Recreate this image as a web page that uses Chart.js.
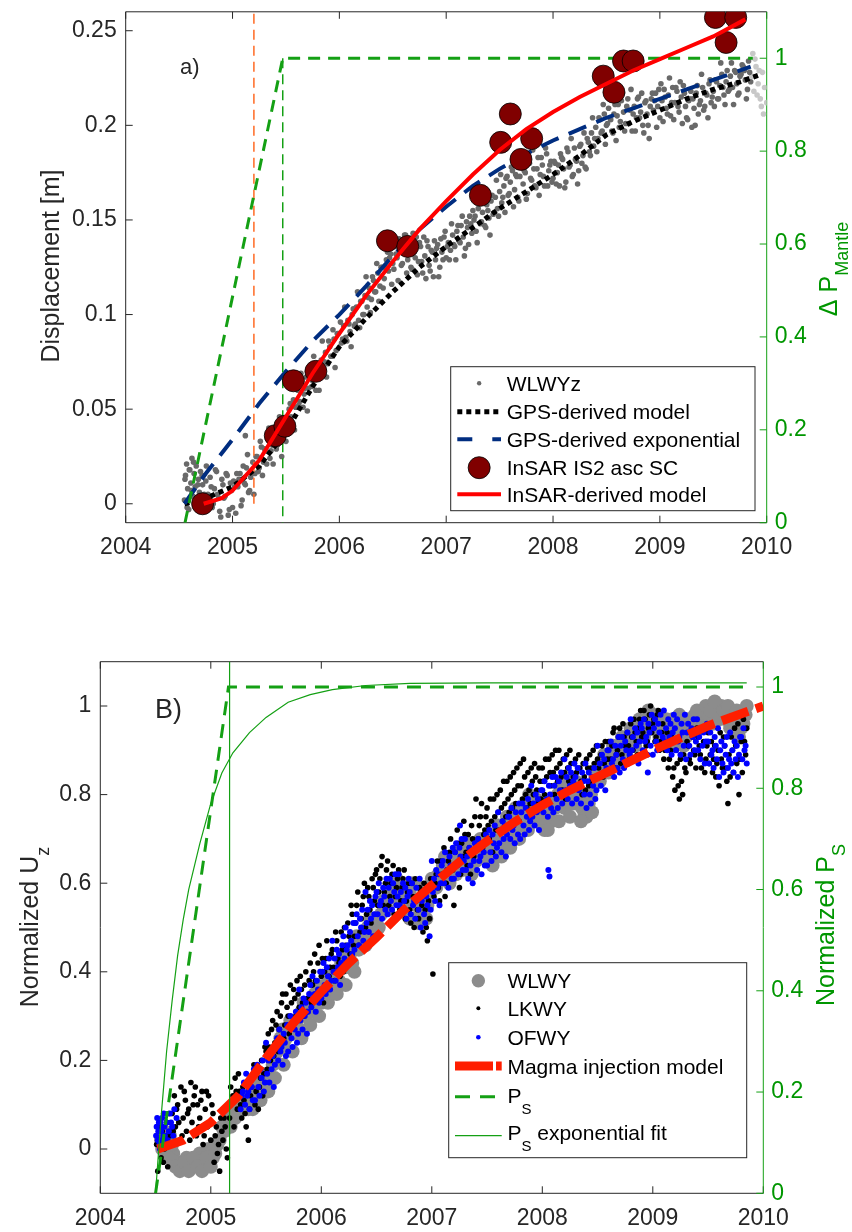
<!DOCTYPE html>
<html>
<head>
<meta charset="utf-8">
<script src="https://cdn.jsdelivr.net/npm/chart.js@4.4.1/dist/chart.umd.min.js"></script>
<style>
html, body { margin: 0; padding: 0; background: #fff; }
#wrap { position: relative; width: 852px; height: 1232px; }
canvas { position: absolute; left: 0; }
#topChart { top: 0; }
#bottomChart { top: 600px; }
</style>
</head>
<body>
<div id="wrap">
  <canvas id="topChart" width="852" height="575"></canvas>
  <canvas id="bottomChart" width="852" height="632"></canvas>
</div>
<script>
// ---------- axes ----------
const yearTicks = [2004, 2005, 2006, 2007, 2008, 2009, 2010];
const dispTicks = [0, 0.05, 0.1, 0.15, 0.2, 0.25];
const mantleTicks = [0, 0.2, 0.4, 0.6, 0.8, 1];
const uzTicks = [0, 0.2, 0.4, 0.6, 0.8, 1];
const psTicks = [0, 0.2, 0.4, 0.6, 0.8, 1];

// ---------- panel a) ----------
// WLWYz vertical GPS [year, m]
const wlwyz = [
  [2004.55,0.002],[2004.56,0.015],[2004.57,0.021],[2004.58,0.008],[2004.59,-0.003],[2004.60,0.018],[2004.61,0.011],[2004.62,0.024],
  [2004.63,0.004],[2004.64,0.016],[2004.65,0.009],[2004.66,0.020],[2004.67,0.001],[2004.68,0.013],[2004.69,0.006],[2004.70,0.017],
  [2004.72,0.010],[2004.73,-0.004],[2004.75,0.012],[2004.77,0.005],[2004.79,0.014],[2004.81,-0.002],[2004.83,0.008],[2004.85,0.017],
  [2004.87,0.003],[2004.89,-0.007],[2004.91,0.010],[2004.93,0.004],[2004.95,0.015],[2004.97,-0.003],[2004.99,0.007],[2005.01,0.012],
  [2005.03,-0.005],[2005.05,0.009],[2005.07,0.016],[2005.09,0.002],[2005.11,0.011],[2005.12,0.036],[2005.13,0.019],[2005.15,0.006],
  [2005.17,0.014],[2005.19,0.022],[2005.21,0.016],[2005.23,0.025],[2005.25,0.019],[2005.27,0.030],[2005.29,0.022],[2005.31,0.028],
  [2005.33,0.035],[2005.35,0.024],[2005.37,0.031],[2005.39,0.040],[2005.41,0.029],[2005.43,0.037],[2005.45,0.033],[2005.47,0.045],
  [2005.49,0.038],[2005.51,0.042],[2005.53,0.050],[2005.55,0.046],[2005.57,0.055],[2005.59,0.051],[2005.61,0.060],[2005.63,0.054],
  [2005.65,0.063],[2005.67,0.058],[2005.69,0.067],[2005.71,0.061],[2005.73,0.070],[2005.75,0.065],[2005.77,0.074],[2005.79,0.069],
  [2005.81,0.060],[2005.83,0.076],[2005.85,0.071],[2005.87,0.080],[2005.89,0.074],[2005.91,0.083],[2005.93,0.078],[2005.95,0.087],
  [2005.97,0.081],[2005.99,0.090],[2006.02,0.085],[2006.04,0.094],[2006.06,0.088],[2006.08,0.097],[2006.10,0.091],[2006.12,0.100],
  [2006.14,0.094],[2006.16,0.104],[2006.18,0.097],[2006.20,0.107],[2006.22,0.100],[2006.24,0.110],[2006.26,0.104],[2006.28,0.114],
  [2006.30,0.108],[2006.32,0.118],[2006.34,0.112],[2006.36,0.122],[2006.38,0.115],[2006.40,0.125],[2006.42,0.119],[2006.44,0.129],
  [2006.46,0.123],[2006.48,0.132],[2006.50,0.127],[2006.52,0.136],[2006.54,0.130],[2006.56,0.140],[2006.58,0.126],[2006.60,0.134],
  [2006.62,0.142],[2006.64,0.129],[2006.66,0.137],[2006.68,0.124],[2006.70,0.133],[2006.72,0.141],[2006.74,0.128],[2006.76,0.136],
  [2006.78,0.122],[2006.80,0.131],[2006.82,0.139],[2006.84,0.126],[2006.86,0.134],[2006.88,0.120],[2006.90,0.129],[2006.92,0.137],
  [2006.94,0.125],[2006.96,0.133],[2006.98,0.141],[2007.00,0.130],[2007.02,0.138],[2007.04,0.134],[2007.06,0.142],[2007.08,0.136],
  [2007.10,0.144],[2007.12,0.139],[2007.14,0.147],[2007.16,0.141],[2007.18,0.135],[2007.20,0.146],[2007.22,0.152],[2007.24,0.143],
  [2007.26,0.150],[2007.28,0.144],[2007.30,0.156],[2007.32,0.148],[2007.34,0.154],[2007.36,0.147],[2007.38,0.158],[2007.40,0.151],
  [2007.42,0.160],[2007.44,0.153],[2007.46,0.162],[2007.48,0.156],[2007.50,0.165],[2007.52,0.159],[2007.54,0.168],[2007.56,0.172],
  [2007.58,0.163],[2007.60,0.170],[2007.62,0.176],[2007.64,0.166],[2007.66,0.173],[2007.68,0.160],[2007.70,0.178],[2007.72,0.169],
  [2007.74,0.175],[2007.76,0.164],[2007.78,0.180],[2007.80,0.171],[2007.82,0.177],[2007.84,0.167],[2007.86,0.183],[2007.88,0.174],
  [2007.90,0.179],[2007.92,0.168],[2007.94,0.185],[2007.96,0.176],[2007.98,0.181],[2008.00,0.172],[2008.02,0.180],[2008.04,0.175],
  [2008.06,0.168],[2008.08,0.183],[2008.10,0.177],[2008.12,0.170],[2008.14,0.186],[2008.16,0.179],[2008.18,0.173],[2008.20,0.188],
  [2008.22,0.181],[2008.24,0.176],[2008.26,0.190],[2008.28,0.184],[2008.30,0.178],[2008.32,0.193],[2008.34,0.186],[2008.36,0.196],
  [2008.38,0.189],[2008.40,0.199],[2008.42,0.193],[2008.44,0.203],[2008.46,0.197],[2008.48,0.206],[2008.50,0.200],[2008.52,0.209],
  [2008.54,0.203],[2008.56,0.196],[2008.58,0.211],[2008.60,0.205],[2008.62,0.199],[2008.64,0.213],[2008.66,0.207],[2008.68,0.201],
  [2008.70,0.214],[2008.72,0.208],[2008.74,0.197],[2008.76,0.210],[2008.78,0.204],[2008.80,0.215],[2008.82,0.207],[2008.84,0.200],
  [2008.86,0.212],[2008.88,0.206],[2008.90,0.193],[2008.92,0.214],[2008.94,0.208],[2008.96,0.217],[2008.98,0.210],[2009.00,0.204],
  [2009.02,0.213],[2009.04,0.219],[2009.06,0.209],[2009.08,0.216],[2009.10,0.205],[2009.12,0.220],[2009.14,0.212],[2009.16,0.218],
  [2009.18,0.207],[2009.20,0.215],[2009.22,0.221],[2009.24,0.210],[2009.26,0.203],[2009.28,0.214],[2009.30,0.199],[2009.32,0.209],
  [2009.34,0.217],[2009.36,0.206],[2009.38,0.213],[2009.40,0.220],[2009.42,0.210],[2009.44,0.216],[2009.46,0.222],[2009.48,0.212],
  [2009.50,0.218],[2009.52,0.224],[2009.54,0.214],[2009.56,0.221],[2009.58,0.227],[2009.60,0.216],[2009.62,0.223],[2009.64,0.218],
  [2009.66,0.226],[2009.68,0.220],[2009.70,0.229],[2009.72,0.222],[2009.74,0.217],[2009.76,0.227],[2009.78,0.231],[2009.80,0.224],
  [2009.82,0.219],[2009.84,0.228],
  [2004.555,0.013],[2004.575,-0.002],[2004.595,0.018],[2004.615,0.007],[2004.635,0.022],[2004.655,0.002],[2004.675,0.010],
  [2004.695,-0.004],[2004.715,0.015],[2004.735,0.005],[2004.755,0.020],[2004.775,0.000],[2004.80,0.009],[2004.82,0.000],
  [2004.84,0.018],[2004.86,0.005],[2004.88,-0.004],[2004.90,0.013],[2004.92,0.003],[2004.94,0.016],[2004.96,-0.006],[2004.98,0.011],
  [2005.00,-0.002],[2005.02,0.009],[2005.04,0.016],[2005.06,0.013],[2005.08,-0.001],[2005.10,0.020],[2005.12,0.010],[2005.14,0.026],
  [2005.16,0.007],[2005.18,0.016],[2005.20,0.005],[2005.22,0.025],[2005.24,0.017],[2005.26,0.033],[2005.28,0.015],[2005.30,0.029],
  [2005.32,0.021],[2005.34,0.040],[2005.36,0.028],[2005.38,0.021],[2005.40,0.039],[2005.42,0.031],[2005.44,0.046],[2005.46,0.025],
  [2005.48,0.044],[2005.50,0.033],[2005.52,0.045],[2005.54,0.053],[2005.56,0.052],[2005.58,0.039],[2005.60,0.061],[2005.62,0.052],
  [2005.64,0.069],[2005.66,0.051],[2005.68,0.061],[2005.70,0.049],[2005.72,0.070],[2005.74,0.062],[2005.76,0.078],[2005.78,0.060],
  [2005.80,0.074],[2005.82,0.067],[2005.84,0.086],[2005.86,0.075],[2005.88,0.067],[2005.90,0.086],[2005.92,0.078],[2005.94,0.092],
  [2005.96,0.072],[2005.98,0.090],[2006.01,0.096],[2006.03,0.087],[2006.05,0.104],[2006.07,0.086],[2006.09,0.095],[2006.11,0.083],
  [2006.13,0.103],[2006.15,0.095],[2006.17,0.112],[2006.19,0.093],[2006.21,0.107],[2006.23,0.100],[2006.25,0.120],[2006.27,0.109],
  [2006.29,0.101],[2006.31,0.120],[2006.33,0.112],[2006.35,0.127],[2006.37,0.107],[2006.39,0.125],[2006.41,0.114],[2006.43,0.125],
  [2006.45,0.133],[2006.47,0.130],[2006.49,0.116],[2006.51,0.124],[2006.53,0.132],[2006.55,0.118],[2006.57,0.137],[2006.59,0.127],
  [2006.61,0.142],[2006.63,0.122],[2006.65,0.134],[2006.67,0.125],[2006.69,0.143],[2006.71,0.130],[2006.73,0.121],[2006.75,0.138],
  [2006.77,0.128],[2006.79,0.141],[2006.81,0.119],[2006.83,0.136],[2006.85,0.123],[2006.87,0.133],[2006.89,0.139],[2006.91,0.135],
  [2006.93,0.120],[2006.95,0.140],[2006.97,0.129],[2006.99,0.144],[2007.01,0.136],[2007.03,0.129],[2007.05,0.148],[2007.07,0.137],
  [2007.09,0.129],[2007.11,0.147],[2007.13,0.138],[2007.15,0.152],[2007.17,0.131],[2007.19,0.149],[2007.21,0.137],[2007.23,0.148],
  [2007.25,0.155],[2007.27,0.152],[2007.29,0.138],[2007.31,0.159],[2007.33,0.149],[2007.35,0.165],[2007.37,0.146],[2007.39,0.155],
  [2007.41,0.142],[2007.43,0.163],[2007.45,0.154],[2007.47,0.171],[2007.49,0.152],[2007.51,0.174],[2007.53,0.162],[2007.55,0.154],
  [2007.57,0.173],[2007.59,0.164],[2007.61,0.178],[2007.63,0.157],[2007.65,0.174],[2007.67,0.162],[2007.69,0.173],[2007.71,0.179],
  [2007.73,0.176],[2007.75,0.161],[2007.77,0.182],[2007.79,0.172],[2007.81,0.187],[2007.83,0.168],[2007.85,0.177],[2007.87,0.163],
  [2007.89,0.183],[2007.91,0.173],[2007.93,0.188],[2007.95,0.168],[2007.97,0.179],[2007.99,0.170],[2008.01,0.181],[2008.03,0.169],
  [2008.05,0.179],[2008.07,0.185],[2008.09,0.182],[2008.11,0.167],[2008.13,0.188],[2008.15,0.178],[2008.17,0.193],[2008.19,0.174],
  [2008.21,0.182],[2008.23,0.169],[2008.25,0.189],[2008.27,0.180],[2008.29,0.196],[2008.31,0.177],[2008.33,0.191],[2008.35,0.184],
  [2008.37,0.204],[2008.39,0.193],[2008.41,0.186],[2008.43,0.204],[2008.45,0.196],[2008.47,0.211],[2008.49,0.190],[2008.51,0.201],
  [2008.53,0.217],[2008.55,0.197],[2008.57,0.206],[2008.59,0.192],[2008.61,0.211],[2008.63,0.202],[2008.65,0.217],[2008.67,0.197],
  [2008.69,0.210],[2008.71,0.201],[2008.73,0.219],[2008.75,0.206],[2008.77,0.197],[2008.79,0.214],[2008.81,0.204],[2008.83,0.217],
  [2008.85,0.196],[2008.87,0.213],[2008.89,0.200],[2008.91,0.210],[2008.93,0.217],[2008.95,0.213],[2008.97,0.199],[2008.99,0.219],
  [2009.01,0.222],[2009.03,0.202],[2009.05,0.215],[2009.07,0.206],[2009.09,0.225],[2009.11,0.212],[2009.13,0.203],[2009.15,0.220],
  [2009.17,0.210],[2009.19,0.223],[2009.21,0.201],[2009.23,0.217],[2009.25,0.204],[2009.27,0.213],[2009.29,0.218],[2009.31,0.214],
  [2009.33,0.200],[2009.35,0.221],[2009.37,0.211],[2009.39,0.227],[2009.41,0.208],[2009.43,0.217],[2009.45,0.204],[2009.47,0.224],
  [2009.49,0.215],[2009.51,0.210],[2009.53,0.223],[2009.55,0.214],[2009.57,0.233],[2009.59,0.220],[2009.61,0.211],[2009.63,0.229],
  [2009.65,0.219],[2009.67,0.233],[2009.69,0.211],[2009.71,0.228],[2009.73,0.216],[2009.75,0.226],[2009.77,0.232],[2009.79,0.229],
  [2009.81,0.214],[2009.83,0.234],[2009.85,0.223]
];
const wlwyzLate = [
  [2009.86,0.226],[2009.88,0.218],[2009.89,0.235],[2009.90,0.231],[2009.92,0.222],[2009.94,0.214],[2009.95,0.210],
  [2009.96,0.228],[2009.98,0.220],[2010.00,0.212],[2009.87,0.238],[2009.91,0.216],[2009.93,0.229],[2009.97,0.206]
];
const gpsModel = [
  [2004.55,0.000],[2004.75,0.003],[2005.00,0.009],[2005.25,0.020],[2005.50,0.038],[2005.75,0.062],[2006.00,0.083],
  [2006.25,0.098],[2006.50,0.112],[2006.75,0.125],[2007.00,0.136],[2007.25,0.146],[2007.50,0.156],[2007.75,0.165],
  [2008.00,0.174],[2008.25,0.184],[2008.50,0.195],[2008.75,0.202],[2009.00,0.208],[2009.25,0.214],[2009.50,0.219],
  [2009.75,0.223],[2009.95,0.227]
];
const gpsExponential = [
  [2004.55,0.000],[2004.75,0.016],[2005.00,0.034],[2005.25,0.053],[2005.50,0.070],[2005.75,0.086],[2006.00,0.100],
  [2006.25,0.115],[2006.50,0.131],[2006.75,0.145],[2007.00,0.157],[2007.25,0.168],[2007.50,0.177],[2007.75,0.185],
  [2008.00,0.192],[2008.25,0.198],[2008.50,0.204],[2008.75,0.209],[2009.00,0.214],[2009.25,0.219],[2009.50,0.224],
  [2009.85,0.231]
];
const insar = [
  [2004.72,0.000],[2005.40,0.036],[2005.49,0.041],[2005.57,0.065],[2005.78,0.070],[2006.45,0.139],[2006.64,0.136],
  [2007.32,0.163],[2007.51,0.191],[2007.60,0.206],[2007.70,0.182],[2007.80,0.193],[2008.47,0.226],[2008.57,0.2175],
  [2008.66,0.234],[2008.75,0.234],[2009.52,0.257],[2009.62,0.2438],[2009.71,0.257]
];
const insarModel = [
  [2004.73,0.000],[2004.90,0.003],[2005.00,0.007],[2005.25,0.023],[2005.50,0.046],[2005.75,0.069],[2006.00,0.090],
  [2006.25,0.110],[2006.50,0.128],[2006.75,0.145],[2007.00,0.160],[2007.25,0.174],[2007.50,0.187],[2007.75,0.198],
  [2008.00,0.207],[2008.25,0.215],[2008.50,0.222],[2008.75,0.229],[2009.00,0.235],[2009.25,0.241],[2009.50,0.247],
  [2009.80,0.256]
];
// Delta P mantle (right axis)
const pMantle = [[2004.555,0],[2005.47,1],[2009.87,1]];
const pMantleDrop = [[2005.47,1],[2005.47,0]];
const orangeEvent = [[2005.2,0],[2005.2,0.26]];

// ---------- panel B) ----------
const wlwy = [
  [2004.55,0.02],[2004.58,0.04],[2004.60,0.01],[2004.63,0.03],[2004.66,-0.01],[2004.70,-0.03],[2004.74,-0.04],[2004.78,-0.02],
  [2004.82,-0.04],[2004.86,-0.03],[2004.90,-0.01],[2004.94,-0.03],[2004.98,0.00],[2005.02,-0.02],[2005.06,0.01],[2005.12,0.04],
  [2005.16,0.07],[2005.20,0.08],[2005.24,0.10],[2005.28,0.09],[2005.32,0.12],[2005.36,0.11],[2005.40,0.13],[2005.44,0.15],
  [2005.48,0.14],[2005.52,0.17],[2005.56,0.19],[2005.60,0.22],[2005.63,0.25],[2005.66,0.23],[2005.70,0.27],[2005.74,0.26],
  [2005.78,0.29],[2005.82,0.31],[2005.86,0.30],[2005.90,0.33],[2005.94,0.35],[2005.98,0.34],[2006.02,0.36],[2006.06,0.38],
  [2006.10,0.37],[2006.14,0.40],[2006.18,0.42],[2006.22,0.41],[2006.26,0.44],[2006.30,0.46],[2006.34,0.45],[2006.38,0.48],
  [2006.42,0.50],[2006.46,0.49],[2006.50,0.52],[2006.54,0.53],[2006.58,0.55],[2006.62,0.57],[2006.66,0.58],[2006.70,0.56],
  [2006.74,0.59],[2006.78,0.57],[2006.82,0.60],[2006.86,0.55],[2006.90,0.53],[2006.94,0.56],[2006.98,0.58],[2007.02,0.60],
  [2007.06,0.62],[2007.10,0.64],[2007.14,0.63],[2007.18,0.66],[2007.22,0.62],[2007.26,0.65],[2007.30,0.67],[2007.34,0.64],
  [2007.38,0.66],[2007.42,0.68],[2007.46,0.67],[2007.50,0.69],[2007.54,0.68],[2007.58,0.70],[2007.62,0.72],[2007.66,0.71],
  [2007.70,0.73],[2007.74,0.75],[2007.78,0.74],[2007.82,0.76],[2007.86,0.78],[2007.90,0.77],[2007.94,0.79],[2007.98,0.76],
  [2008.02,0.72],[2008.06,0.75],[2008.10,0.78],[2008.14,0.80],[2008.18,0.79],[2008.22,0.82],[2008.26,0.80],[2008.30,0.83],
  [2008.34,0.79],[2008.38,0.76],[2008.42,0.78],[2008.46,0.82],[2008.50,0.85],[2008.54,0.87],[2008.58,0.86],[2008.62,0.88],
  [2008.66,0.90],[2008.70,0.89],[2008.74,0.91],[2008.78,0.93],[2008.82,0.92],[2008.86,0.94],[2008.90,0.96],[2008.94,0.95],
  [2008.98,0.97],[2009.02,0.95],[2009.06,0.93],[2009.10,0.96],[2009.14,0.94],[2009.18,0.97],[2009.22,0.92],[2009.26,0.95],
  [2009.30,0.93],[2009.34,0.96],[2009.38,0.98],[2009.42,0.97],[2009.46,0.99],[2009.50,0.98],[2009.54,0.96],[2009.58,0.99],
  [2009.62,1.00],[2009.66,0.97],[2009.70,0.95],[2009.74,0.98],[2009.78,0.93],[2009.82,0.96],[2009.85,1.00],
  [2004.56,0.00],[2004.59,0.03],[2004.62,-0.02],[2004.65,0.01],[2004.68,-0.04],[2004.72,-0.05],[2004.76,-0.03],[2004.80,-0.05],
  [2004.84,-0.02],[2004.88,-0.04],[2004.92,-0.05],[2004.96,-0.02],[2005.00,-0.04],[2005.04,-0.01],[2005.08,0.02],[2005.10,0.05],
  [2005.14,0.06],[2005.18,0.05],[2005.22,0.07],[2005.26,0.12],[2005.30,0.10],[2005.34,0.09],[2005.38,0.13],[2005.42,0.12],
  [2005.46,0.17],[2005.50,0.15],[2005.54,0.21],[2005.58,0.20],[2005.62,0.23],[2005.65,0.27],[2005.68,0.25],[2005.72,0.29],
  [2005.76,0.28],[2005.80,0.27],[2005.84,0.33],[2005.88,0.32],[2005.92,0.31],[2005.96,0.37],[2006.00,0.33],[2006.04,0.35],
  [2006.08,0.40],[2006.12,0.39],[2006.16,0.38],[2006.20,0.44],[2006.24,0.43],[2006.28,0.42],[2006.32,0.48],[2006.36,0.47],
  [2006.40,0.46],[2006.44,0.52],[2006.48,0.51],[2006.52,0.50],[2006.56,0.56],[2006.60,0.54],[2006.64,0.60],[2006.68,0.61],
  [2006.72,0.58],[2006.76,0.55],[2006.80,0.58],[2006.84,0.52],[2006.88,0.56],[2006.92,0.59],[2006.96,0.55],[2007.00,0.61],
  [2007.04,0.59],[2007.08,0.61],[2007.12,0.66],[2007.16,0.60],[2007.20,0.64],[2007.24,0.67],[2007.28,0.63],[2007.32,0.69],
  [2007.36,0.62],[2007.40,0.65],[2007.44,0.70],[2007.48,0.66],[2007.52,0.71],[2007.56,0.66],[2007.60,0.73],[2007.64,0.69],
  [2007.68,0.75],[2007.72,0.71],[2007.76,0.77],[2007.80,0.73],[2007.84,0.75],[2007.88,0.80],[2007.92,0.75],[2007.96,0.74],
  [2008.00,0.73],[2008.04,0.77],[2008.08,0.74],[2008.12,0.77],[2008.16,0.82],[2008.20,0.77],[2008.24,0.84],[2008.28,0.78],
  [2008.32,0.81],[2008.36,0.77],[2008.40,0.75],[2008.44,0.80],[2008.48,0.84],[2008.52,0.83],[2008.56,0.89],[2008.60,0.85],
  [2008.64,0.91],[2008.68,0.87],[2008.72,0.93],[2008.76,0.89],[2008.80,0.95],[2008.84,0.91],[2008.88,0.97],[2008.92,0.93],
  [2008.96,0.99],[2009.00,0.96],[2009.04,0.98],[2009.08,0.92],[2009.12,0.97],[2009.16,0.91],[2009.20,0.95],[2009.24,0.98],
  [2009.28,0.91],[2009.32,0.97],[2009.36,0.94],[2009.40,0.99],[2009.44,0.95],[2009.48,1.00],[2009.52,0.99],[2009.56,1.01],
  [2009.60,0.97],[2009.64,0.99],[2009.68,1.00],[2009.72,0.97],[2009.76,0.99],[2009.80,0.95],[2009.84,0.98],
  [2005.38,0.09],[2005.45,0.11],[2005.52,0.13],[2005.58,0.16],[2005.66,0.19],[2005.74,0.22],[2005.82,0.25],[2005.90,0.28],
  [2005.98,0.30],[2006.06,0.33],[2006.14,0.35],[2006.22,0.37],[2006.30,0.40],[2006.80,0.52],[2006.88,0.51],[2006.95,0.52],
  [2007.55,0.64],[2007.63,0.66],[2007.71,0.68],[2007.79,0.70],[2007.87,0.72],[2008.05,0.72],[2008.15,0.74],[2008.25,0.75],
  [2008.35,0.74],[2008.45,0.76]
];
const lkwy = [
  [2004.52,-0.05],[2004.53,0.02],[2004.55,-0.02],[2004.56,0.04],[2004.58,0.00],[2004.60,0.06],[2004.61,-0.04],[2004.63,0.03],
  [2004.65,0.08],[2004.67,0.12],[2004.68,0.05],[2004.70,0.10],[2004.72,0.02],[2004.73,0.14],[2004.75,0.07],[2004.77,0.11],
  [2004.78,0.04],[2004.80,0.09],[2004.82,0.15],[2004.83,0.06],[2004.85,0.12],[2004.87,0.03],[2004.88,0.10],[2004.90,0.07],
  [2004.92,0.13],[2004.93,0.01],[2004.95,0.09],[2004.97,0.05],[2004.98,0.12],[2005.00,0.02],[2005.02,0.08],[2005.03,-0.03],
  [2005.05,0.05],[2005.07,0.01],[2005.08,-0.05],[2005.10,0.04],[2005.12,0.07],[2005.14,0.00],[2005.16,0.10],[2005.18,0.14],
  [2005.20,0.12],[2005.22,0.16],[2005.24,0.09],[2005.26,0.13],[2005.28,0.07],[2005.30,0.11],[2005.32,0.05],[2005.34,0.02],
  [2005.36,0.12],[2005.38,0.16],[2005.40,0.10],[2005.42,0.18],[2005.44,0.14],[2005.46,0.20],[2005.48,0.17],[2005.50,0.22],
  [2005.52,0.26],[2005.54,0.20],[2005.56,0.29],[2005.58,0.24],[2005.60,0.31],[2005.62,0.27],[2005.64,0.33],[2005.66,0.25],
  [2005.68,0.35],[2005.70,0.30],[2005.72,0.37],[2005.74,0.28],[2005.76,0.34],[2005.78,0.38],[2005.80,0.32],[2005.82,0.36],
  [2005.84,0.30],[2005.86,0.40],[2005.88,0.34],[2005.90,0.42],[2005.92,0.37],[2005.94,0.44],[2005.96,0.35],[2005.98,0.46],
  [2006.00,0.39],[2006.02,0.33],[2006.04,0.43],[2006.06,0.36],[2006.08,0.41],[2006.10,0.45],[2006.12,0.38],[2006.14,0.47],
  [2006.16,0.42],[2006.18,0.49],[2006.20,0.40],[2006.22,0.46],[2006.24,0.51],[2006.26,0.44],[2006.28,0.53],[2006.30,0.48],
  [2006.32,0.55],[2006.34,0.46],[2006.36,0.52],[2006.38,0.57],[2006.40,0.50],[2006.42,0.59],[2006.44,0.54],[2006.46,0.61],
  [2006.48,0.56],[2006.50,0.63],[2006.52,0.58],[2006.54,0.64],[2006.56,0.55],[2006.58,0.60],[2006.60,0.65],[2006.62,0.57],
  [2006.64,0.62],[2006.66,0.53],[2006.68,0.59],[2006.70,0.63],[2006.72,0.56],[2006.74,0.61],[2006.76,0.52],[2006.78,0.58],
  [2006.80,0.54],[2006.82,0.60],[2006.84,0.50],[2006.86,0.56],[2006.88,0.52],[2006.90,0.58],[2006.92,0.49],[2006.94,0.54],
  [2006.96,0.47],[2006.98,0.52],[2007.01,0.395],[2007.02,0.57],[2007.04,0.62],[2007.06,0.59],[2007.08,0.65],[2007.10,0.60],
  [2007.12,0.57],[2007.14,0.63],[2007.16,0.67],[2007.18,0.61],[2007.20,0.55],[2007.22,0.64],[2007.24,0.69],[2007.26,0.62],
  [2007.28,0.66],[2007.30,0.71],[2007.32,0.64],[2007.34,0.68],[2007.36,0.73],[2007.38,0.66],[2007.40,0.79],[2007.42,0.70],
  [2007.44,0.75],[2007.46,0.68],[2007.48,0.72],[2007.50,0.77],[2007.52,0.70],[2007.54,0.74],[2007.56,0.79],[2007.58,0.72],
  [2007.60,0.76],[2007.62,0.81],[2007.64,0.74],[2007.66,0.78],[2007.68,0.83],[2007.70,0.76],[2007.72,0.80],[2007.74,0.85],
  [2007.76,0.78],[2007.78,0.82],[2007.80,0.87],[2007.82,0.79],[2007.84,0.84],[2007.86,0.77],[2007.88,0.81],[2007.90,0.86],
  [2007.92,0.80],[2007.94,0.84],[2007.96,0.78],[2007.98,0.83],[2008.00,0.86],[2008.02,0.80],[2008.04,0.84],[2008.06,0.88],
  [2008.08,0.82],[2008.10,0.85],[2008.12,0.90],[2008.14,0.83],[2008.16,0.87],[2008.18,0.81],[2008.20,0.85],[2008.22,0.89],
  [2008.24,0.83],[2008.26,0.87],[2008.28,0.84],[2008.30,0.88],[2008.32,0.82],[2008.34,0.86],[2008.36,0.80],[2008.38,0.84],
  [2008.40,0.88],[2008.42,0.82],[2008.44,0.86],[2008.46,0.90],[2008.48,0.84],[2008.50,0.88],[2008.52,0.84],[2008.54,0.91],
  [2008.56,0.87],[2008.58,0.85],[2008.60,0.92],[2008.62,0.88],[2008.64,0.94],[2008.66,0.86],[2008.68,0.90],[2008.70,0.95],
  [2008.72,0.89],[2008.74,0.93],[2008.76,0.87],[2008.78,0.91],[2008.80,0.96],[2008.82,0.90],[2008.84,0.94],[2008.86,0.89],
  [2008.88,0.97],[2008.90,0.93],[2008.92,0.99],[2008.94,0.91],[2008.96,0.95],[2008.98,1.00],[2009.00,0.96],[2009.02,0.92],
  [2009.04,0.98],[2009.06,0.90],[2009.08,0.94],[2009.10,0.88],[2009.12,0.92],[2009.14,0.86],[2009.16,0.90],[2009.18,0.84],
  [2009.20,0.81],[2009.22,0.87],[2009.24,0.79],[2009.26,0.83],[2009.28,0.89],[2009.30,0.85],[2009.32,0.91],[2009.34,0.87],
  [2009.36,0.93],[2009.38,0.89],[2009.40,0.95],[2009.42,0.91],[2009.44,0.86],[2009.46,0.92],[2009.48,0.88],[2009.50,0.94],
  [2009.52,0.89],[2009.54,0.85],[2009.56,0.91],[2009.58,0.87],[2009.60,0.82],[2009.62,0.88],[2009.64,0.93],[2009.66,0.86],
  [2009.68,0.78],[2009.70,0.84],[2009.72,0.90],[2009.74,0.95],[2009.76,0.87],[2009.78,0.80],[2009.80,0.92],[2009.82,0.97],
  [2009.84,0.89],
  [2004.51,0.01],[2004.54,0.05],[2004.57,-0.03],[2004.59,0.03],[2004.62,0.08],[2004.64,0.01],[2004.66,0.04],[2004.69,0.09],
  [2004.71,0.06],[2004.74,0.03],[2004.76,0.13],[2004.79,0.08],[2004.81,0.02],[2004.84,0.10],[2004.86,0.14],[2004.89,0.05],
  [2004.91,0.11],[2004.94,0.03],[2004.96,0.13],[2004.99,0.06],[2005.01,0.10],[2005.04,0.03],[2005.06,-0.01],[2005.09,0.07],
  [2005.11,0.02],[2005.13,0.05],[2005.15,-0.02],[2005.17,0.07],[2005.19,0.11],[2005.21,0.05],[2005.23,0.13],[2005.25,0.17],
  [2005.27,0.10],[2005.29,0.14],[2005.31,0.08],[2005.33,0.15],[2005.35,0.09],[2005.37,0.14],[2005.39,0.19],[2005.41,0.13],
  [2005.43,0.09],[2005.45,0.16],[2005.47,0.12],[2005.49,0.23],[2005.51,0.18],[2005.53,0.23],[2005.55,0.27],[2005.57,0.21],
  [2005.59,0.28],[2005.61,0.22],[2005.63,0.30],[2005.65,0.35],[2005.67,0.28],[2005.69,0.32],[2005.71,0.26],[2005.73,0.33],
  [2005.75,0.36],[2005.77,0.30],[2005.79,0.35],[2005.81,0.39],[2005.83,0.33],[2005.85,0.37],[2005.87,0.31],[2005.89,0.38],
  [2005.91,0.33],[2005.93,0.40],[2005.95,0.38],[2005.97,0.42],[2005.99,0.36],[2006.01,0.43],[2006.03,0.40],[2006.05,0.47],
  [2006.07,0.39],[2006.09,0.44],[2006.11,0.41],[2006.13,0.49],[2006.15,0.43],[2006.17,0.39],[2006.19,0.45],[2006.21,0.50],
  [2006.23,0.42],[2006.25,0.48],[2006.27,0.55],[2006.29,0.46],[2006.31,0.51],[2006.33,0.58],[2006.35,0.49],[2006.37,0.55],
  [2006.39,0.60],[2006.41,0.53],[2006.43,0.57],[2006.45,0.51],[2006.47,0.59],[2006.49,0.62],[2006.51,0.55],[2006.53,0.61],
  [2006.55,0.66],[2006.57,0.58],[2006.59,0.63],[2006.61,0.55],[2006.63,0.60],[2006.65,0.64],[2006.67,0.57],[2006.69,0.61],
  [2006.71,0.54],[2006.73,0.59],[2006.75,0.63],[2006.77,0.56],[2006.79,0.60],[2006.81,0.51],[2006.83,0.57],[2006.85,0.61],
  [2006.87,0.54],[2006.89,0.59],[2006.91,0.55],[2006.93,0.60],[2006.95,0.50],[2006.97,0.56],[2006.99,0.61],[2007.03,0.60],
  [2007.05,0.65],[2007.07,0.56],[2007.09,0.62],[2007.11,0.68],[2007.13,0.60],[2007.15,0.65],[2007.17,0.70],[2007.19,0.63],
  [2007.21,0.67],[2007.23,0.72],[2007.25,0.59],[2007.27,0.69],[2007.29,0.74],[2007.31,0.67],[2007.33,0.71],[2007.35,0.62],
  [2007.37,0.70],[2007.39,0.75],[2007.41,0.68],[2007.43,0.73],[2007.45,0.78],[2007.47,0.71],[2007.49,0.75],[2007.51,0.73],
  [2007.53,0.79],[2007.55,0.67],[2007.57,0.75],[2007.59,0.80],[2007.61,0.72],[2007.63,0.77],[2007.65,0.83],[2007.67,0.75],
  [2007.69,0.79],[2007.71,0.84],[2007.73,0.77],[2007.75,0.81],[2007.77,0.86],[2007.79,0.74],[2007.81,0.82],[2007.83,0.88],
  [2007.85,0.80],[2007.87,0.85],[2007.89,0.78],[2007.91,0.83],[2007.93,0.87],[2007.95,0.81],[2007.97,0.86],[2007.99,0.79],
  [2008.01,0.83],[2008.03,0.88],[2008.05,0.78],[2008.07,0.85],[2008.09,0.89],[2008.11,0.80],[2008.13,0.86],[2008.15,0.90],
  [2008.17,0.84],[2008.19,0.88],[2008.21,0.79],[2008.23,0.86],[2008.25,0.90],[2008.27,0.81],[2008.29,0.87],[2008.31,0.85],
  [2008.33,0.89],[2008.35,0.83],[2008.37,0.87],[2008.39,0.81],[2008.41,0.86],[2008.43,0.89],[2008.45,0.83],[2008.47,0.87],
  [2008.49,0.91],[2008.51,0.86],[2008.53,0.89],[2008.55,0.84],[2008.57,0.92],[2008.59,0.88],[2008.61,0.85],[2008.63,0.91],
  [2008.65,0.95],[2008.67,0.89],[2008.69,0.93],[2008.71,0.87],[2008.73,0.96],[2008.75,0.91],[2008.77,0.94],[2008.79,0.88],
  [2008.81,0.93],[2008.83,0.97],[2008.85,0.92],[2008.87,0.95],[2008.89,0.99],[2008.91,0.94],[2008.93,0.97],[2008.95,0.92],
  [2008.97,0.98],[2008.99,0.94],[2009.01,0.97],[2009.03,0.93],[2009.05,0.99],[2009.07,0.92],[2009.09,0.96],[2009.11,0.90],
  [2009.13,0.94],[2009.15,0.88],[2009.17,0.93],[2009.19,0.86],[2009.21,0.90],[2009.23,0.82],[2009.25,0.88],[2009.27,0.80],
  [2009.29,0.86],[2009.31,0.92],[2009.33,0.88],[2009.35,0.94],[2009.37,0.90],[2009.39,0.86],[2009.41,0.93],[2009.43,0.89],
  [2009.45,0.95],[2009.47,0.85],[2009.49,0.91],[2009.51,0.87],[2009.53,0.92],[2009.55,0.88],[2009.57,0.84],[2009.59,0.90],
  [2009.61,0.94],[2009.63,0.86],[2009.65,0.91],[2009.67,0.83],[2009.69,0.89],[2009.71,0.93],[2009.73,0.85],[2009.75,0.91],
  [2009.77,0.96],[2009.79,0.88],[2009.81,0.85],[2009.83,0.92],[2009.85,0.95]
];
const ofwy = [
  [2004.505,0.03],[2004.51,0.05],[2004.515,0.07],[2004.52,0.02],[2004.525,0.04],[2004.53,0.06],[2004.535,0.01],[2004.54,0.00],
  [2004.545,0.06],[2004.55,0.04],[2004.555,0.02],[2004.56,0.07],[2004.565,0.05],[2004.57,0.03],[2004.575,0.08],[2004.58,0.05],
  [2004.585,0.03],[2004.59,0.01],[2004.60,0.06],[2004.61,0.02],[2004.62,0.04],[2004.63,0.08],[2004.64,0.06],[2004.65,0.05],
  [2004.66,0.03],[2004.67,0.09],[2004.69,0.07],[2005.27,0.09],[2005.28,0.12],[2005.29,0.13],
  [2005.30,0.15],[2005.31,0.10],[2005.32,0.17],[2005.33,0.12],[2005.34,0.13],[2005.35,0.09],[2005.36,0.16],[2005.37,0.14],[2005.38,0.11],[2005.39,0.18],
  [2005.40,0.11],[2005.41,0.17],[2005.42,0.19],[2005.43,0.14],[2005.44,0.12],[2005.45,0.18],[2005.46,0.16],[2005.47,0.20],[2005.48,0.13],[2005.49,0.15],
  [2005.50,0.24],[2005.51,0.17],[2005.52,0.20],[2005.53,0.15],[2005.54,0.22],[2005.55,0.18],[2005.56,0.21],[2005.57,0.14],[2005.58,0.19],[2005.59,0.23],
  [2005.60,0.25],[2005.61,0.20],[2005.62,0.27],[2005.63,0.22],[2005.64,0.23],[2005.65,0.19],[2005.66,0.26],[2005.67,0.24],[2005.68,0.21],[2005.69,0.28],
  [2005.70,0.22],[2005.71,0.28],[2005.72,0.30],[2005.73,0.25],[2005.74,0.23],[2005.75,0.29],[2005.76,0.27],[2005.77,0.31],[2005.78,0.24],[2005.79,0.26],
  [2005.80,0.36],[2005.81,0.29],[2005.82,0.32],[2005.83,0.27],[2005.84,0.34],[2005.85,0.30],[2005.86,0.33],[2005.87,0.26],[2005.88,0.31],[2005.89,0.35],
  [2005.90,0.37],[2005.91,0.32],[2005.92,0.39],[2005.93,0.34],[2005.94,0.35],[2005.95,0.31],[2005.96,0.38],[2005.97,0.36],[2005.98,0.33],[2005.99,0.40],
  [2006.00,0.34],[2006.01,0.40],[2006.02,0.42],[2006.03,0.37],[2006.04,0.35],[2006.05,0.41],[2006.06,0.39],[2006.07,0.43],[2006.08,0.36],[2006.09,0.38],
  [2006.10,0.47],[2006.11,0.40],[2006.12,0.43],[2006.13,0.38],[2006.14,0.45],[2006.15,0.41],[2006.16,0.44],[2006.17,0.37],[2006.18,0.42],[2006.19,0.46],
  [2006.20,0.48],[2006.21,0.43],[2006.22,0.50],[2006.23,0.45],[2006.24,0.46],[2006.25,0.42],[2006.26,0.49],[2006.27,0.47],[2006.28,0.44],[2006.29,0.51],
  [2006.30,0.45],[2006.31,0.51],[2006.32,0.53],[2006.33,0.48],[2006.34,0.46],[2006.35,0.52],[2006.36,0.50],[2006.37,0.54],[2006.38,0.47],[2006.39,0.49],
  [2006.40,0.58],[2006.41,0.51],[2006.42,0.54],[2006.43,0.49],[2006.44,0.56],[2006.45,0.52],[2006.46,0.55],[2006.47,0.48],[2006.48,0.53],[2006.49,0.57],
  [2006.50,0.58],[2006.51,0.53],[2006.52,0.60],[2006.53,0.55],[2006.54,0.56],[2006.55,0.52],[2006.56,0.59],[2006.57,0.57],[2006.58,0.54],[2006.59,0.61],
  [2006.60,0.53],[2006.61,0.59],[2006.62,0.61],[2006.63,0.56],[2006.64,0.54],[2006.65,0.60],[2006.66,0.58],[2006.67,0.62],[2006.68,0.55],[2006.69,0.57],
  [2006.70,0.62],[2006.71,0.55],[2006.72,0.58],[2006.73,0.53],[2006.74,0.60],[2006.75,0.56],[2006.76,0.59],[2006.77,0.52],[2006.78,0.57],[2006.79,0.61],
  [2006.80,0.58],[2006.81,0.53],[2006.82,0.60],[2006.83,0.55],[2006.84,0.56],[2006.85,0.52],[2006.86,0.59],[2006.87,0.57],[2006.88,0.54],[2006.89,0.61],
  [2006.90,0.50],[2006.91,0.56],[2006.92,0.58],[2006.93,0.53],[2006.94,0.51],[2006.95,0.57],[2006.96,0.55],[2006.97,0.59],[2006.98,0.48],[2006.99,0.54],
  [2007.00,0.65],[2007.01,0.58],[2007.02,0.61],[2007.03,0.56],[2007.04,0.63],[2007.05,0.59],[2007.06,0.62],[2007.07,0.55],[2007.08,0.60],[2007.09,0.64],
  [2007.10,0.65],[2007.11,0.60],[2007.12,0.67],[2007.13,0.62],[2007.14,0.63],[2007.15,0.59],[2007.16,0.66],[2007.17,0.64],[2007.18,0.61],[2007.19,0.68],
  [2007.20,0.61],[2007.21,0.67],[2007.22,0.69],[2007.23,0.64],[2007.24,0.62],[2007.25,0.68],[2007.255,0.73],[2007.26,0.66],[2007.27,0.70],[2007.28,0.63],[2007.29,0.65],
  [2007.30,0.70],[2007.31,0.63],[2007.32,0.66],[2007.33,0.61],[2007.34,0.68],[2007.35,0.64],[2007.36,0.67],[2007.37,0.60],[2007.38,0.65],[2007.39,0.69],
  [2007.40,0.68],[2007.41,0.63],[2007.42,0.70],[2007.43,0.65],[2007.44,0.66],[2007.45,0.62],[2007.46,0.69],[2007.47,0.67],[2007.48,0.64],[2007.49,0.71],
  [2007.50,0.64],[2007.51,0.70],[2007.52,0.72],[2007.53,0.67],[2007.54,0.65],[2007.55,0.71],[2007.56,0.69],[2007.57,0.73],[2007.58,0.66],[2007.59,0.68],
  [2007.60,0.76],[2007.61,0.69],[2007.62,0.72],[2007.63,0.67],[2007.64,0.74],[2007.65,0.70],[2007.66,0.73],[2007.67,0.66],[2007.68,0.71],[2007.69,0.75],
  [2007.70,0.75],[2007.71,0.70],[2007.72,0.77],[2007.73,0.72],[2007.74,0.73],[2007.75,0.69],[2007.76,0.76],[2007.77,0.74],[2007.78,0.71],[2007.79,0.78],
  [2007.80,0.70],[2007.81,0.76],[2007.82,0.78],[2007.83,0.73],[2007.84,0.71],[2007.85,0.77],[2007.86,0.75],[2007.87,0.79],[2007.88,0.72],[2007.89,0.74],
  [2007.90,0.82],[2007.91,0.75],[2007.92,0.78],[2007.93,0.73],[2007.94,0.80],[2007.95,0.76],[2007.96,0.79],[2007.97,0.72],[2007.98,0.77],[2007.99,0.81],
  [2008.00,0.81],[2008.01,0.76],[2008.02,0.83],[2008.03,0.78],[2008.04,0.79],[2008.05,0.75],[2008.055,0.63],[2008.06,0.82],[2008.065,0.615],[2008.07,0.80],[2008.08,0.77],[2008.09,0.84],
  [2008.10,0.76],[2008.11,0.82],[2008.12,0.84],[2008.13,0.79],[2008.14,0.77],[2008.15,0.83],[2008.16,0.81],[2008.17,0.85],[2008.18,0.78],[2008.19,0.80],
  [2008.20,0.88],[2008.21,0.81],[2008.22,0.84],[2008.23,0.79],[2008.24,0.86],[2008.25,0.82],[2008.26,0.85],[2008.27,0.78],[2008.28,0.83],[2008.29,0.87],
  [2008.30,0.84],[2008.31,0.79],[2008.32,0.86],[2008.33,0.81],[2008.34,0.82],[2008.35,0.78],[2008.36,0.85],[2008.37,0.83],[2008.38,0.80],[2008.39,0.87],
  [2008.40,0.77],[2008.41,0.83],[2008.42,0.85],[2008.43,0.80],[2008.44,0.78],[2008.45,0.84],[2008.46,0.82],[2008.47,0.86],[2008.48,0.79],[2008.49,0.81],
  [2008.50,0.91],[2008.51,0.84],[2008.52,0.87],[2008.53,0.82],[2008.54,0.89],[2008.55,0.85],[2008.56,0.88],[2008.57,0.81],[2008.58,0.86],[2008.59,0.90],
  [2008.60,0.90],[2008.61,0.85],[2008.62,0.92],[2008.63,0.87],[2008.64,0.88],[2008.65,0.84],[2008.66,0.91],[2008.67,0.89],[2008.68,0.86],[2008.69,0.93],
  [2008.70,0.85],[2008.71,0.91],[2008.72,0.93],[2008.73,0.88],[2008.74,0.86],[2008.75,0.92],[2008.76,0.90],[2008.77,0.94],[2008.78,0.87],[2008.79,0.89],
  [2008.80,0.97],[2008.81,0.90],[2008.82,0.93],[2008.83,0.88],[2008.84,0.95],[2008.85,0.91],[2008.86,0.94],[2008.87,0.87],[2008.88,0.92],[2008.89,0.96],
  [2008.90,0.95],[2008.91,0.90],[2008.92,0.97],[2008.93,0.92],[2008.94,0.93],[2008.95,0.89],[2008.955,0.85],[2008.96,0.96],[2008.97,0.94],[2008.98,0.91],[2008.99,0.98],
  [2009.00,0.89],[2009.01,0.95],[2009.02,0.97],[2009.03,0.92],[2009.04,0.90],[2009.05,0.96],[2009.06,0.94],[2009.07,0.98],[2009.08,0.91],[2009.09,0.93],
  [2009.10,0.99],[2009.11,0.92],[2009.12,0.95],[2009.13,0.90],[2009.14,0.97],[2009.15,0.93],[2009.16,0.96],[2009.17,0.89],[2009.18,0.94],[2009.19,0.98],
  [2009.20,0.95],[2009.21,0.90],[2009.22,0.97],[2009.23,0.92],[2009.24,0.93],[2009.25,0.89],[2009.26,0.96],[2009.27,0.94],[2009.28,0.91],[2009.29,0.98],
  [2009.30,0.88],[2009.31,0.94],[2009.32,0.96],[2009.33,0.91],[2009.34,0.89],[2009.35,0.95],[2009.36,0.93],[2009.37,0.97],[2009.38,0.90],[2009.39,0.92],
  [2009.40,0.97],[2009.41,0.90],[2009.42,0.93],[2009.43,0.88],[2009.44,0.95],[2009.45,0.91],[2009.46,0.94],[2009.47,0.87],[2009.48,0.92],[2009.49,0.96],
  [2009.50,0.92],[2009.51,0.87],[2009.52,0.94],[2009.53,0.89],[2009.54,0.90],[2009.55,0.86],[2009.56,0.93],[2009.57,0.91],[2009.58,0.88],[2009.59,0.95],
  [2009.60,0.84],[2009.61,0.90],[2009.62,0.92],[2009.63,0.87],[2009.64,0.85],[2009.65,0.91],[2009.66,0.89],[2009.67,0.93],[2009.68,0.86],[2009.69,0.88],
  [2009.70,0.94],[2009.71,0.87],[2009.72,0.90],[2009.73,0.85],[2009.74,0.92],[2009.75,0.88],[2009.76,0.91],[2009.77,0.84],[2009.78,0.89],[2009.79,0.93],
  [2009.80,0.93],[2009.81,0.88],[2009.82,0.95],[2009.83,0.90],[2009.84,0.91],[2009.85,0.87]
];
const magmaModel = [
  [2004.52,0.000],[2004.75,0.020],[2005.00,0.060],[2005.25,0.120],[2005.50,0.205],[2005.75,0.285],[2006.00,0.355],
  [2006.25,0.420],[2006.50,0.478],[2006.75,0.540],[2007.00,0.595],[2007.25,0.648],[2007.50,0.695],[2007.75,0.738],
  [2008.00,0.776],[2008.25,0.810],[2008.50,0.840],[2008.75,0.870],[2009.00,0.900],[2009.25,0.928],[2009.50,0.955],
  [2009.75,0.978],[2010.00,1.000]
];
const pS = [[2004.50,0],[2005.16,1],[2009.83,1]];
const pSFit = [
  [2004.50,0.00],[2004.55,0.15],[2004.60,0.28],[2004.65,0.38],[2004.70,0.47],[2004.75,0.54],[2004.80,0.60],[2004.90,0.69],
  [2005.00,0.77],[2005.10,0.83],[2005.20,0.87],[2005.35,0.91],[2005.50,0.94],[2005.70,0.97],[2005.90,0.985],[2006.10,0.995],
  [2006.40,1.003],[2006.80,1.007],[2007.50,1.008],[2009.85,1.008]
];
const pSStep = [[2005.17,0],[2005.17,1.05]];

// ---------- styles ----------
const FONT = "'Liberation Sans', Arial, Helvetica, sans-serif";
const AXIS = 'rgb(38,38,38)';
const GREEN_TXT = 'rgb(0,150,0)';
const GREEN_LN = 'rgb(20,160,20)';
const pts = arr => arr.map(p => ({ x: p[0], y: p[1] }));

function setTicks(values) {
  return scale => { scale.ticks = values.map(v => ({ value: v })); };
}
function noPad(scale) {
  scale.paddingTop = 0; scale.paddingBottom = 0;
  scale.paddingLeft = 0; scale.paddingRight = 0;
}
function fixWidth(w) { return scale => { scale.width = w; noPad(scale); }; }
function fixHeight(h) { return scale => { scale.height = h; noPad(scale); }; }

function richText(ctx, parts, x, y, rot, color) {
  ctx.save();
  ctx.translate(x, y);
  ctx.rotate(rot);
  ctx.fillStyle = color;
  ctx.textBaseline = 'alphabetic';
  ctx.textAlign = 'left';
  let w = 0;
  parts.forEach(p => { ctx.font = p[1] + 'px ' + FONT; w += ctx.measureText(p[0]).width; });
  let cx = rot === 0 ? 0 : -w / 2;
  parts.forEach(p => {
    ctx.font = p[1] + 'px ' + FONT;
    ctx.fillText(p[0], cx, p[2] || 0);
    cx += ctx.measureText(p[0]).width;
  });
  ctx.restore();
}

function framePlugin(leftId, rightId) {
  return {
    id: 'frame',
    beforeDatasetsDraw(chart) {
      const { ctx, chartArea: a, scales } = chart;
      const tl = 7;
      ctx.save();
      ctx.lineWidth = 1;
      ctx.strokeStyle = AXIS;
      ctx.beginPath();
      ctx.moveTo(a.right, a.top); ctx.lineTo(a.left, a.top);
      ctx.lineTo(a.left, a.bottom); ctx.lineTo(a.right, a.bottom);
      scales.x.ticks.forEach(t => {
        const px = scales.x.getPixelForValue(t.value);
        ctx.moveTo(px, a.bottom); ctx.lineTo(px, a.bottom - tl);
        ctx.moveTo(px, a.top); ctx.lineTo(px, a.top + tl);
      });
      scales[leftId].ticks.forEach(t => {
        const py = scales[leftId].getPixelForValue(t.value);
        ctx.moveTo(a.left, py); ctx.lineTo(a.left + tl, py);
      });
      ctx.stroke();
      ctx.strokeStyle = GREEN_LN;
      ctx.beginPath();
      ctx.moveTo(a.right, a.top); ctx.lineTo(a.right, a.bottom);
      scales[rightId].ticks.forEach(t => {
        const py = scales[rightId].getPixelForValue(t.value);
        ctx.moveTo(a.right, py); ctx.lineTo(a.right - tl, py);
      });
      ctx.stroke();
      ctx.restore();
    }
  };
}

// legend box drawn inside the axes, styles taken from the datasets
function legendPlugin(box, rows, sample) {
  return {
    id: 'boxLegend',
    afterDraw(chart) {
      const ctx = chart.ctx;
      ctx.save();
      ctx.fillStyle = '#fff';
      ctx.fillRect(box[0], box[1], box[2] - box[0], box[3] - box[1]);
      ctx.strokeStyle = AXIS;
      ctx.lineWidth = 1;
      ctx.strokeRect(box[0], box[1], box[2] - box[0], box[3] - box[1]);
      rows.forEach(r => {
        const ds = chart.data.datasets[r.ds];
        if (r.kind === 'line') {
          ctx.strokeStyle = ds.borderColor;
          ctx.lineWidth = ds.borderWidth;
          ctx.setLineDash(r.dash || ds.borderDash || []);
          ctx.lineCap = 'butt';
          ctx.beginPath();
          ctx.moveTo(sample[0], r.ly);
          ctx.lineTo(sample[1], r.ly);
          ctx.stroke();
          ctx.setLineDash([]);
        } else {
          ctx.beginPath();
          ctx.arc((sample[0] + sample[1]) / 2, r.ly, r.r, 0, Math.PI * 2);
          ctx.fillStyle = ds.pointBackgroundColor;
          ctx.fill();
          if (ds.pointBorderWidth > 0) {
            ctx.strokeStyle = ds.pointBorderColor;
            ctx.lineWidth = ds.pointBorderWidth;
            ctx.stroke();
          }
        }
        richText(ctx, r.parts, sample[1] + 5.7, r.ty, 0, '#000');
      });
      ctx.restore();
    }
  };
}

function baseOptions(pad, leftW, rightW, bottomH, leftScale, rightScale, xTickPad) {
  const tickFont = { family: FONT, size: 23 };
  return {
    responsive: false,
    animation: false,
    events: [],
    layout: { padding: { left: 0, right: 0, top: pad, bottom: 0 } },
    plugins: { legend: { display: false }, tooltip: { enabled: false } },
    scales: {
      x: {
        type: 'linear', min: 2004, max: 2010,
        grid: { display: false, drawTicks: false }, border: { display: false },
        ticks: { font: tickFont, color: AXIS, padding: xTickPad, autoSkip: false, maxRotation: 0, callback: v => String(v) },
        afterBuildTicks: setTicks(yearTicks), afterFit: fixHeight(bottomH)
      },
      y: Object.assign({
        type: 'linear', position: 'left',
        grid: { display: false, drawTicks: false }, border: { display: false },
        ticks: { font: tickFont, color: AXIS, padding: 9, autoSkip: false, callback: v => String(v) },
        afterFit: fixWidth(leftW)
      }, leftScale),
      y2: Object.assign({
        type: 'linear', position: 'right',
        grid: { display: false, drawTicks: false }, border: { display: false },
        ticks: { font: tickFont, color: GREEN_TXT, padding: 8, autoSkip: false, callback: v => String(v) },
        afterFit: fixWidth(rightW)
      }, rightScale)
    }
  };
}

// ---------- top chart ----------
const topLabels = {
  id: 'topLabels',
  afterDraw(chart) {
    const ctx = chart.ctx;
    richText(ctx, [['Displacement [m]', 25, 0]], 59, 266, -Math.PI / 2, AXIS);
    richText(ctx, [['\u0394 P', 25, 0], ['Mantle', 18, 11]], 837, 269, -Math.PI / 2, GREEN_TXT);
    richText(ctx, [['a)', 22, 0]], 180, 74, 0, AXIS);
  }
};

const topOpts = baseOptions(9.3, 125.7, 85.3, 52.3,
  { min: -0.01, max: 0.26, afterBuildTicks: setTicks(dispTicks) },
  { min: 0, max: 1.1, afterBuildTicks: setTicks(mantleTicks) }, 11);

new Chart(document.getElementById('topChart'), {
  type: 'scatter',
  data: {
    datasets: [
      { label: 'WLWYz', data: pts(wlwyz), pointBackgroundColor: 'rgb(105,105,105)', pointBorderWidth: 0, pointRadius: 2.8, order: 9 },
      { label: 'GPS-derived model', data: pts(gpsModel), showLine: true, borderColor: '#000', borderWidth: 5, borderDash: [5, 4], pointRadius: 0, order: 6 },
      { label: 'GPS-derived exponential', data: pts(gpsExponential), showLine: true, borderColor: 'rgb(0,45,128)', borderWidth: 4, borderDash: [19, 11], pointRadius: 0, order: 5 },
      { label: 'InSAR IS2 asc SC', data: pts(insar), pointBackgroundColor: 'rgb(128,0,0)', pointBorderColor: '#000', pointBorderWidth: 0.8, pointRadius: 11, order: 3 },
      { label: 'InSAR-derived model', data: pts(insarModel), showLine: true, borderColor: 'rgb(255,0,0)', borderWidth: 4, pointRadius: 0, order: 2 },
      { label: 'WLWYz late', data: pts(wlwyzLate), pointBackgroundColor: 'rgb(200,200,200)', pointBorderWidth: 0, pointRadius: 2.8, order: 10 },
      { label: 'dP mantle', data: pts(pMantle), yAxisID: 'y2', showLine: true, borderColor: GREEN_LN, borderWidth: 3, borderDash: [12, 8], pointRadius: 0, order: 4 },
      { label: 'dP drop', data: pts(pMantleDrop), yAxisID: 'y2', showLine: true, borderColor: GREEN_LN, borderWidth: 1.5, borderDash: [10, 6], pointRadius: 0, order: 4 },
      { label: 'event', data: pts(orangeEvent), showLine: true, borderColor: 'rgb(255,105,35)', borderWidth: 1.5, borderDash: [10, 6], pointRadius: 0, order: 8 }
    ]
  },
  options: topOpts,
  plugins: [framePlugin('y', 'y2'), topLabels,
    legendPlugin([450.7, 366.7, 755, 510.7], [
      { ds: 0, kind: 'point', r: 2.2, ly: 383.3, ty: 390.8, parts: [['WLWYz', 21, 0]] },
      { ds: 1, kind: 'line', ly: 411.7, ty: 419.2, parts: [['GPS-derived model', 21, 0]] },
      { ds: 2, kind: 'line', ly: 439.3, ty: 446.8, dash: [15, 20], parts: [['GPS-derived exponential', 21, 0]] },
      { ds: 3, kind: 'point', r: 11, ly: 467.7, ty: 475.2, parts: [['InSAR IS2 asc SC', 21, 0]] },
      { ds: 4, kind: 'line', ly: 494.3, ty: 501.8, parts: [['InSAR-derived model', 21, 0]] }
    ], [457.3, 501])]
});

// ---------- bottom chart (canvas offset 600) ----------
const bottomLabels = {
  id: 'bottomLabels',
  afterDraw(chart) {
    const ctx = chart.ctx;
    richText(ctx, [['Normalized U', 25, 0], ['z', 18, 11]], 38, 327, -Math.PI / 2, AXIS);
    richText(ctx, [['Normalized P', 25, 0], ['S', 18, 11]], 834, 325, -Math.PI / 2, GREEN_TXT);
    richText(ctx, [['B)', 27, 0]], 155, 118, 0, AXIS);
  }
};

const bottomOpts = baseOptions(61.7, 100.3, 88.7, 38.7,
  { min: -0.1, max: 1.1, afterBuildTicks: setTicks(uzTicks) },
  { min: 0, max: 1.05, afterBuildTicks: setTicks(psTicks) }, 12);

new Chart(document.getElementById('bottomChart'), {
  type: 'scatter',
  data: {
    datasets: [
      { label: 'WLWY', data: pts(wlwy), pointBackgroundColor: 'rgb(140,140,140)', pointBorderWidth: 0, pointRadius: 7, order: 10 },
      { label: 'LKWY', data: pts(lkwy), pointBackgroundColor: '#000', pointBorderWidth: 0, pointRadius: 2.8, order: 9 },
      { label: 'OFWY', data: pts(ofwy), pointBackgroundColor: 'rgb(0,0,255)', pointBorderWidth: 0, pointRadius: 3, order: 8 },
      { label: 'Magma injection model', data: pts(magmaModel), showLine: true, borderColor: 'rgb(255,30,0)', borderWidth: 9, borderDash: [28, 8], pointRadius: 0, order: 5 },
      { label: 'PS', data: pts(pS), yAxisID: 'y2', showLine: true, borderColor: GREEN_LN, borderWidth: 3, borderDash: [14, 9], pointRadius: 0, order: 3 },
      { label: 'PS exponential fit', data: pts(pSFit), yAxisID: 'y2', showLine: true, borderColor: GREEN_LN, borderWidth: 1.2, pointRadius: 0, order: 3 },
      { label: 'PS step', data: pts(pSStep), yAxisID: 'y2', showLine: true, borderColor: GREEN_LN, borderWidth: 1.2, pointRadius: 0, order: 4 }
    ]
  },
  options: bottomOpts,
  plugins: [framePlugin('y', 'y2'), bottomLabels,
    legendPlugin([448.7, 362.7, 746.7, 557.7], [
      { ds: 0, kind: 'point', r: 6.7, ly: 380.7, ty: 387.5, parts: [['WLWY', 21, 0]] },
      { ds: 1, kind: 'point', r: 2, ly: 408.3, ty: 415.8, parts: [['LKWY', 21, 0]] },
      { ds: 2, kind: 'point', r: 2.3, ly: 437.3, ty: 444.8, parts: [['OFWY', 21, 0]] },
      { ds: 3, kind: 'line', ly: 466, ty: 473.5, dash: [38, 3], parts: [['Magma injection model', 21, 0]] },
      { ds: 4, kind: 'line', ly: 496.7, ty: 502.5, dash: [15, 10], parts: [['P', 21, 0], ['S', 15, 11]] },
      { ds: 5, kind: 'line', ly: 535.7, ty: 540, parts: [['P', 21, 0], ['S', 15, 11], [' exponential fit', 21, 0]] }
    ], [455, 501.7])]
});
</script>
</body>
</html>
